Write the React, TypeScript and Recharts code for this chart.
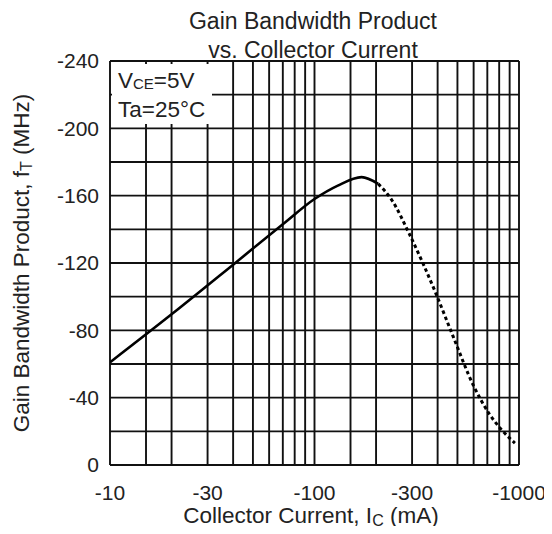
import React from "react";
import { LineChart, Line, XAxis, YAxis, ReferenceLine } from "recharts";

// Data (x: collector current magnitude in mA, y: fT magnitude in MHz)
const solidCurrent = [10, 20, 40, 70, 100, 130, 170, 205];
const solidFt = [61, 89.5, 119, 143, 158, 166, 171, 167];
const dashCurrent = [205, 240, 290, 392, 474, 600, 719, 821, 955];
const dashFt = [167, 157, 137.6, 102, 77, 47, 30, 21, 13];

const xTicks = [10, 30, 100, 300, 1000];
const yTicks = [0, 40, 80, 120, 160, 200, 240];
const xGrid = [10, 15, 20, 30, 40, 50, 60, 70, 80, 90, 100, 150, 200, 300, 400, 500, 600, 700, 800, 900, 1000];
const yGrid = [0, 20, 40, 60, 80, 100, 120, 140, 160, 180, 200, 220, 240];

const solidData = solidCurrent.map((x, i) => ({ x, y: solidFt[i] }));
const dashData = dashCurrent.map((x, i) => ({ x, y: dashFt[i] }));

const FONT = "'Liberation Sans', Arial, sans-serif";
const TXT = "#222";
const GRID = "#111";

export default function App() {
  return (
    <div style={{ position: "relative", width: 544, height: 518, fontFamily: FONT, color: TXT }}>
      <LineChart
        width={544}
        height={518}
        margin={{ top: 53, right: 33, left: 0, bottom: 21 }}
      >
        <XAxis
          dataKey="x"
          type="number"
          scale="log"
          domain={[10, 1000]}
          allowDataOverflow
          ticks={xTicks}
          tickFormatter={(v: number) => `-${v}`}
          axisLine={false}
          tickLine={false}
          tickSize={0}
          tickMargin={20}
          height={40}
          interval={0}
          tick={{ fontSize: 21, fill: TXT, fontFamily: FONT }}
        />
        <YAxis
          dataKey="y"
          type="number"
          domain={[0, 240]}
          ticks={yTicks}
          tickFormatter={(v: number) => (v === 0 ? "0" : `-${v}`)}
          axisLine={false}
          tickLine={false}
          tickSize={0}
          tickMargin={11}
          width={102}
          interval={0}
          tick={{ fontSize: 21, fill: TXT, fontFamily: FONT }}
        />
        {yGrid.map((v) => (
          <ReferenceLine key={"h" + v} y={v} stroke={GRID} strokeWidth={1.9} />
        ))}
        {xGrid.map((v) => (
          <ReferenceLine key={"v" + v} x={v} stroke={GRID} strokeWidth={1.9} />
        ))}
        <Line
          data={solidData}
          dataKey="y"
          type="monotone"
          stroke="#000"
          strokeWidth={2.6}
          dot={false}
          isAnimationActive={false}
        />
        <Line
          data={dashData}
          dataKey="y"
          type="monotone"
          stroke="#000"
          strokeWidth={3}
          strokeDasharray="3.5 3"
          dot={false}
          isAnimationActive={false}
        />
      </LineChart>

      {/* Title */}
      <div
        style={{
          position: "absolute",
          left: 305,
          top: -1,
          transform: "translateX(-50%)",
          whiteSpace: "nowrap",
          textAlign: "center",
          fontSize: 23,
          lineHeight: "29px",
        }}
      >
        Gain Bandwidth Product
        <br />
        vs. Collector Current
      </div>

      {/* Condition box */}
      <div
        style={{
          position: "absolute",
          left: 104,
          top: 56,
          width: 100,
          height: 60,
          background: "#fff",
        }}
      />
      <div
        style={{
          position: "absolute",
          left: 110,
          top: 59,
          fontSize: 22.5,
          lineHeight: "27px",
          whiteSpace: "nowrap",
        }}
      >
        <div>
          V<span style={{ fontSize: 15, position: "relative", top: 1 }}>CE</span>=5V
        </div>
        <div>Ta=25°C</div>
      </div>

      {/* X axis title */}
      <div
        style={{
          position: "absolute",
          left: 303,
          top: 497.5,
          transform: "translateX(-50%)",
          whiteSpace: "nowrap",
          fontSize: 22.5,
          lineHeight: "20px",
        }}
      >
        Collector Current, I<span style={{ fontSize: 16, position: "relative", top: 3, lineHeight: "10px" }}>C</span> (mA)
      </div>

      {/* Y axis title */}
      <div
        style={{
          position: "absolute",
          left: 15,
          top: 255,
          transform: "translate(-50%, -50%) rotate(-90deg)",
          whiteSpace: "nowrap",
          fontSize: 22.5,
          lineHeight: "26px",
        }}
      >
        Gain Bandwidth Product, f<span style={{ fontSize: 16, position: "relative", top: 3 }}>T</span> (MHz)
      </div>
    </div>
  );
}
